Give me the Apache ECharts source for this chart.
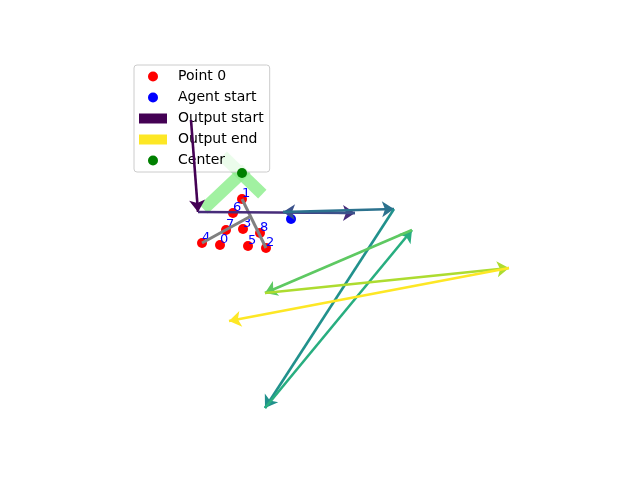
<!DOCTYPE html>
<html>
<head>
<meta charset="utf-8">
<script src="https://cdn.jsdelivr.net/npm/echarts@6/dist/echarts.min.js"></script>
<style>
  html, body { margin: 0; padding: 0; background: #fff; }
  #chart { width: 640px; height: 480px; }
</style>
</head>
<body>
<div id="chart"></div>
<script>
// points (drawing units, y grows downward)
var pointX = [220, 242, 266, 243, 202, 248, 233, 226, 260];
var pointY = [245, 199, 248, 229, 243, 246, 213, 230, 233];
var pointLabels = ['0', '1', '2', '3', '4', '5', '6', '7', '8'];

var agentX = [291];
var agentY = [219];
var centerX = [242];
var centerY = [173];

// tree edges (gray)
var edgeFrom = [[242, 199], [202, 243]];
var edgeTo = [[266, 248], [251, 216]];

// light green bars around the center
var barFrom = [[208, 205], [227, 160]];
var barTo = [[242, 173], [258, 190]];

// output path, drawn as consecutive arrows
var pathX = [191, 198, 355, 283, 394, 265, 412, 265, 509, 229];
var pathY = [120, 212, 213, 212, 209, 408, 230, 293, 268, 321];

// viridis steps
var viridis = ['#440154', '#472c7a', '#3b528b', '#2c728e', '#21918c',
  '#28ae80', '#5ec962', '#addc30', '#fde725'];

var chart = echarts.init(document.getElementById('chart'));

var pointData = pointX.map(function (x, i) {
  return { value: [x, pointY[i]], label: { formatter: pointLabels[i] } };
});

var arrowData = [];
for (var i = 0; i < pathX.length - 1; i++) {
  arrowData.push({
    coords: [[pathX[i], pathY[i]], [pathX[i + 1], pathY[i + 1]]],
    lineStyle: { color: viridis[i] }
  });
}

var edgeData = edgeFrom.map(function (p, i) { return { coords: [p, edgeTo[i]] }; });
var barData = barFrom.map(function (p, i) { return { coords: [p, barTo[i]] }; });

var option = {
  animation: false,
  grid: { left: 0, right: 0, top: 0, bottom: 0 },
  xAxis: { type: 'value', min: 0, max: 640, show: false },
  yAxis: { type: 'value', min: 0, max: 480, inverse: true, show: false },
  legend: {
    left: 134,
    top: 65,
    orient: 'vertical',
    padding: [4, 6, 4, 5],
    itemWidth: 28,
    itemHeight: 10,
    itemGap: 6,
    backgroundColor: 'rgba(255,255,255,0.8)',
    borderColor: '#cccccc',
    borderWidth: 1,
    borderRadius: 3,
    textStyle: { fontFamily: 'DejaVu Sans', fontSize: 14, color: '#000', lineHeight: 15, padding: [0, 0, 0, 6] },
    data: [
      { name: 'Point 0', icon: 'circle', itemStyle: { color: '#ff0000', opacity: 1 } },
      { name: 'Agent start', icon: 'circle', itemStyle: { color: '#0000ff', opacity: 1 } },
      { name: 'Output start', icon: 'rect', itemStyle: { color: viridis[0] } },
      { name: 'Output end', icon: 'rect', itemStyle: { color: viridis[viridis.length - 1] } },
      { name: 'Center', icon: 'circle', itemStyle: { color: '#008000', opacity: 1 } }
    ]
  },
  series: [
    {
      name: 'bars',
      type: 'lines',
      coordinateSystem: 'cartesian2d',
      z: 1,
      lineStyle: { color: '#90ee90', width: 12, opacity: 0.85, cap: 'square' },
      data: barData
    },
    {
      name: 'Point 0',
      type: 'scatter',
      z: 2,
      symbolSize: 10,
      itemStyle: { color: '#ff0000', opacity: 1 },
      label: {
        show: true,
        position: [5, 6],
        align: 'left',
        verticalAlign: 'bottom',
        color: '#0000ff',
        fontFamily: 'DejaVu Sans',
        fontSize: 13
      },
      data: pointData
    },
    {
      name: 'edges',
      type: 'lines',
      coordinateSystem: 'cartesian2d',
      z: 3,
      lineStyle: { color: '#808080', width: 3, opacity: 1 },
      data: edgeData
    },
    {
      name: 'Agent start',
      type: 'scatter',
      symbolSize: 10,
      itemStyle: { color: '#0000ff', opacity: 1 },
      data: agentX.map(function (x, i) { return [x, agentY[i]]; })
    },
    {
      name: 'arrows',
      type: 'lines',
      coordinateSystem: 'cartesian2d',
      z: 5,
      symbol: ['none', 'arrow'],
      symbolSize: [9, 12],
      lineStyle: { width: 2.6, opacity: 1 },
      data: arrowData
    },
    {
      name: 'Output start',
      type: 'line',
      itemStyle: { color: viridis[0] },
      lineStyle: { color: viridis[0] },
      data: []
    },
    {
      name: 'Output end',
      type: 'line',
      itemStyle: { color: viridis[viridis.length - 1] },
      lineStyle: { color: viridis[viridis.length - 1] },
      data: []
    },
    {
      name: 'Center',
      type: 'scatter',
      symbolSize: 10,
      z: 6,
      itemStyle: { color: '#008000', opacity: 1 },
      data: centerX.map(function (x, i) { return [x, centerY[i]]; })
    }
  ]
};

chart.setOption(option);
</script>
</body>
</html>
